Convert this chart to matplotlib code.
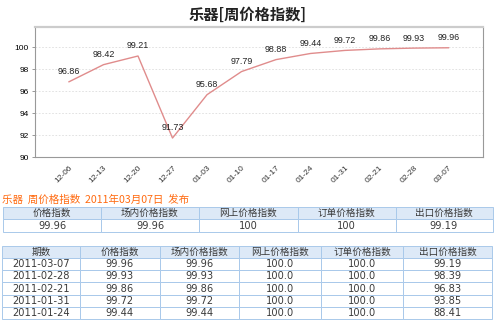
import matplotlib.pyplot as plt
from matplotlib.patches import Rectangle

plt.rcParams['font.family'] = ['Noto Sans CJK SC', 'DejaVu Sans']

# chart data
weeks = ['12-06', '12-13', '12-20', '12-27', '01-03', '01-10', '01-17',
         '01-24', '01-31', '02-21', '02-28', '03-07']
index = [96.86, 98.42, 99.21, 91.73, 95.68, 97.79, 98.88,
         99.44, 99.72, 99.86, 99.93, 99.96]
yticks = [90, 92, 94, 96, 98, 100]

# summary table
title = '乐器[周价格指数]'
caption = '乐器  周价格指数  2011年03月07日  发布'
sum_head = ['价格指数', '场内价格指数', '网上价格指数', '订单价格指数', '出口价格指数']
sum_vals = ['99.96', '99.96', '100', '100', '99.19']

# history table
hist_head = ['期数', '价格指数', '场内价格指数', '网上价格指数', '订单价格指数', '出口价格指数']
hist_dates = ['2011-03-07', '2011-02-28', '2011-02-21', '2011-01-31', '2011-01-24']
hist_price = ['99.96', '99.93', '99.86', '99.72', '99.44']
hist_field = ['99.96', '99.93', '99.86', '99.72', '99.44']
hist_online = ['100.0', '100.0', '100.0', '100.0', '100.0']
hist_order = ['100.0', '100.0', '100.0', '100.0', '100.0']
hist_export = ['99.19', '98.39', '96.83', '93.85', '88.41']

W, H = 500, 325
fig = plt.figure(figsize=(5, 3.25), dpi=100)

def px_axes(x0, y0, x1, y1):
    return fig.add_axes([x0 / W, 1 - y1 / H, (x1 - x0) / W, (y1 - y0) / H])

# ---- line chart
ax = px_axes(34.5, 26.5, 483, 157)
x = list(range(len(weeks)))
ax.plot(x, index, color='#e08c8c', lw=1.0)
for xi, v in zip(x, index):
    ax.annotate(f'{v:.2f}', (xi, v), xytext=(0, 4), textcoords='offset points',
                ha='center', va='bottom', fontsize=6.4, family='Liberation Sans',
                color='#222222')
ax.set_xlim(-1, len(weeks))
ax.set_ylim(90, 101.9)
ax.set_yticks(yticks)
ax.set_yticklabels([str(t) for t in yticks], fontsize=6, family='Liberation Sans')
ax.set_xticks(x)
ax.set_xticklabels(weeks, rotation=45, ha='right', rotation_mode='anchor',
                   fontsize=6, family='Liberation Sans', color='#333333')
ax.tick_params(axis='both', length=2, width=0.6, color='#888888', pad=2)
ax.tick_params(axis='x', length=0, pad=5)
ax.grid(axis='y', linestyle=(0, (2, 2)), color='#dddddd', lw=0.6)
for s in ['left', 'bottom', 'right']:
    ax.spines[s].set_color('#999999')
    ax.spines[s].set_linewidth(0.8)
ax.spines['top'].set_color('#cccccc')
ax.spines['top'].set_linewidth(1.6)
fig.text(248 / W, 1 - 15 / H, title, ha='center', va='center',
         fontsize=11, fontweight='bold', color='#222222')

# ---- tables drawn on an overlay in pixel units
ov = fig.add_axes([0, 0, 1, 1], zorder=-1)
ov.set_xlim(0, W)
ov.set_ylim(H, 0)
ov.axis('off')

border = '#a9c9ea'
head_bg = '#dde9f7'
txt = '#3a3a3a'

ov.text(2, 200, caption, ha='left', va='center', fontsize=7.6, color='#ff6a10')

def draw_table(cols, rows, cells, head_rows=1):
    for r in range(len(rows) - 1):
        for c in range(len(cols) - 1):
            fc = head_bg if r < head_rows else 'white'
            ov.add_patch(Rectangle((cols[c], rows[r]), cols[c + 1] - cols[c],
                                   rows[r + 1] - rows[r], fc=fc, ec=border, lw=0.7))
            is_num = cells[r][c][:1].isdigit()
            ov.text((cols[c] + cols[c + 1]) / 2, (rows[r] + rows[r + 1]) / 2 + 0.3,
                    cells[r][c], ha='center', va='center', color=txt,
                    fontsize=7.1 if is_num else 6.9,
                    family='DejaVu Sans' if is_num else 'Noto Sans CJK SC')

cols1 = [3, 101, 199, 298, 395.5, 492.5]
rows1 = [207.3, 219.3, 231.7]
draw_table(cols1, rows1, [sum_head, sum_vals])

cols2 = [2, 80, 159.5, 239, 321, 403, 492]
rows2 = [246, 257.7, 270, 282.3, 294.6, 306.9, 319.2]
body = [list(r) for r in zip(hist_dates, hist_price, hist_field,
                             hist_online, hist_order, hist_export)]
draw_table(cols2, rows2, [hist_head] + body)

fig.savefig('out.png', dpi=100)
